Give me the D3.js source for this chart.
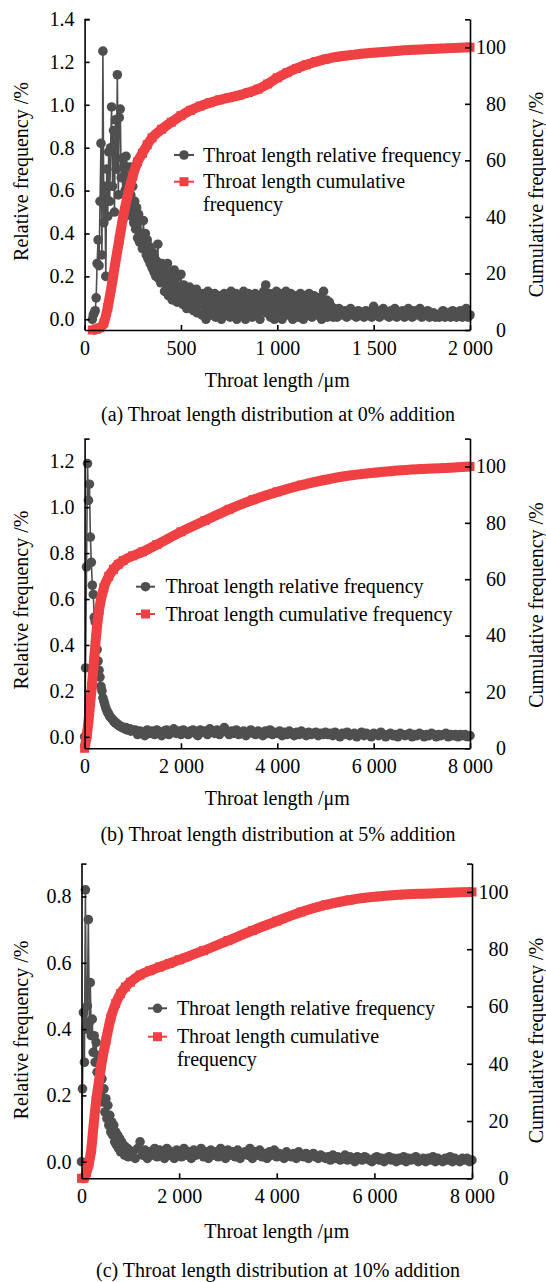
<!DOCTYPE html>
<html lang="en">
<head>
<meta charset="UTF-8" />
<title>Throat length distribution</title>
<style>
  body { margin: 0; background: #fff; }
  svg { display: block; font-family: "Liberation Serif", "Times New Roman", Times, serif; }
  text { fill: #000; }
</style>
</head>
<body>
<svg width="546" height="1282"></svg>
<script src="https://d3js.org/d3.v7.min.js"></script>
<script>
// ---- data ----
// (a) 0% addition, relative frequency: 40-400 um every 5 um
const relA1 = [0.00,0.02,0.03,0.04,0.10,0.26,0.37,0.25,0.55,0.82,0.30,1.25,0.45,0.62,0.20,0.70,0.48,0.78,0.55,0.80,
  0.99,0.62,0.88,0.50,0.93,0.70,1.14,0.58,0.94,0.98,0.66,0.75,0.47,0.72,0.60,0.76,0.55,0.68,0.52,0.71,
  0.58,0.48,0.62,0.45,0.55,0.42,0.52,0.38,0.49,0.36,0.46,0.40,0.33,0.46,0.35,0.40,0.30,0.37,0.28,0.34,
  0.26,0.32,0.24,0.31,0.22,0.28,0.20,0.27,0.35,0.19,0.24,0.17,0.26];
// 405-1300 um every 5 um
const relA2 = [0.20,0.24,0.13,0.21,0.17,0.26,0.11,0.19,0.15,0.22,0.09,0.18,0.23,0.12,0.16,0.08,0.20,0.14,0.10,0.21,
  0.12,0.07,0.16,0.10,0.14,0.05,0.13,0.09,0.15,0.06,0.11,0.13,0.04,0.10,0.08,0.14,0.03,0.12,0.07,0.11,
  0.09,0.02,0.12,0.06,0.10,0.00,0.08,0.13,0.04,0.11,0.07,0.02,0.10,0.05,0.12,0.01,0.09,0.06,0.11,0.03,
  0.08,0.00,0.10,0.05,0.12,0.02,0.07,0.11,0.04,0.09,0.01,0.13,0.06,0.10,0.03,0.08,0.12,0.00,0.07,0.10,
  0.04,0.11,0.02,0.09,0.13,0.05,0.00,0.10,0.07,0.12,0.03,0.08,0.11,0.01,0.09,0.06,0.12,0.02,0.10,0.05,
  0.08,0.00,0.11,0.04,0.09,0.13,0.06,0.16,0.03,0.10,0.07,0.12,0.01,0.09,0.05,0.11,0.00,0.08,0.13,0.06,
  0.10,0.03,0.12,0.07,0.00,0.09,0.11,0.04,0.13,0.06,0.10,0.02,0.08,0.12,0.05,0.00,0.09,0.11,0.03,0.07,
  0.10,0.01,0.08,0.12,0.04,0.09,0.00,0.11,0.06,0.10,0.02,0.08,0.12,0.05,0.09,0.01,0.07,0.11,0.03,0.06,
  0.09,0.02,0.10,0.05,0.08,0.00,0.07,0.13,0.03,0.06,0.09,0.01,0.05,0.08,0.02,0.06,0.04,0.01,0.05,0.03];
// 1310-2000 um every 10 um
const relA3 = [0.01,0.05,0.03,0.02,0.04,0.01,0.03,0.05,0.02,0.03,
  0.01,0.04,0.02,0.03,0.01,0.04,0.02,0.03,0.01,0.06,0.02,0.04,0.01,0.03,0.05,0.02,0.03,0.01,0.04,0.02,
  0.05,0.01,0.03,0.02,0.04,0.01,0.03,0.05,0.02,0.01,0.04,0.02,0.03,0.05,0.01,0.03,0.02,0.04,0.01,0.02,
  0.03,0.01,0.02,0.01,0.03,0.04,0.01,0.02,0.03,0.01,0.04,0.02,0.01,0.03,0.04,0.01,0.02,0.05,0.01,0.02];
const cumAx = [40,60,80,100,120,140,160,180,200,225,250,275,300,325,350,400,450,500,550,600,650,700,750,800,850,
  900,950,1000,1050,1100,1150,1200,1250,1300,1350,1400,1450,1500,1600,1700,1800,1900,2000];
const cumA = [0,0.3,0.8,2.5,8,15.5,24,32,40,48,54.5,59.5,62.5,65.5,68,71,73.5,75.8,77.7,79.2,80.4,81.4,82.2,83,84,
  85.2,87,89.2,91,92.5,93.8,94.9,95.8,96.5,97,97.4,97.8,98.1,98.6,99.1,99.4,99.7,100];

// (b) 5% addition: 0-1000 um every 20 um, then 1050-8000 um every 50 um
const relB1 = [0.00,0.30,0.74,1.19,1.03,1.10,0.87,0.76,0.66,0.62,0.52,0.50,0.44,0.38,0.33,0.29,0.26,0.22,0.20,0.17,
  0.155,0.14,0.125,0.115,0.105,0.10,0.09,0.085,0.08,0.075,0.07,0.065,0.06,0.06,0.055,0.05,0.05,0.045,0.045,0.04,
  0.04,0.04,0.035,0.04,0.03,0.035,0.03,0.035,0.025,0.03,0.03];
const relB2 = [0.03,0.01,0.025,0.02,0.005,0.03,0.015,0.025,0.01,0.03,0.02,0.005,0.025,0.03,0.01,0.02,0.035,0.015,0.025,0.01,
  0.03,0.02,0.01,0.025,0.03,0.015,0.005,0.03,0.02,0.025,0.01,0.035,0.02,0.015,0.03,0.01,0.025,0.04,0.02,0.01,
  0.025,0.015,0.03,0.01,0.02,0.025,0.005,0.02,0.03,0.015,0.01,0.025,0.02,0.005,0.025,0.015,0.03,0.01,0.02,0.015,
  0.025,0.005,0.02,0.01,0.025,0.015,0.005,0.02,0.01,0.025,0.015,0.005,0.02,0.01,0.015,0.02,0.005,0.015,0.01,0.02,
  0.01,0.015,0.005,0.02,0.01,0.0,0.015,0.01,0.02,0.005,0.01,0.015,0.0,0.01,0.02,0.005,0.015,0.01,0.0,0.015,
  0.01,0.005,0.02,0.01,0.0,0.01,0.015,0.005,0.01,0.0,0.015,0.01,0.005,0.01,0.015,0.0,0.01,0.005,0.015,0.01,
  0.0,0.01,0.005,0.015,0.01,0.0,0.01,0.005,0.01,0.015,0.0,0.01,0.005,0.01,0.0,0.01,0.005,0.01,0.0,0.005];
const cumBx = [0,50,100,150,200,250,300,400,500,600,700,800,1000,1200,1500,2000,2500,3000,3500,4000,4500,5000,
  5500,6000,6500,7000,7500,8000];
const cumB = [0,5,13,22,32,42,49,57,61,63.5,65.3,66.6,68.3,69.7,72.3,76.8,80.8,84.8,88.2,91,93.4,95.3,
  96.8,97.8,98.6,99.1,99.5,100];

// (c) 10% addition: 0-1000 um every 20 um, then 1050-8000 um every 50 um
const relC1 = [0.00,0.22,0.45,0.30,0.82,0.40,0.47,0.73,0.42,0.54,0.38,0.43,0.33,0.38,0.30,0.36,0.27,0.32,0.24,0.29,
  0.21,0.25,0.18,0.22,0.15,0.19,0.13,0.17,0.11,0.14,0.09,0.12,0.08,0.11,0.06,0.09,0.05,0.08,0.04,0.07,
  0.03,0.06,0.03,0.05,0.02,0.045,0.02,0.04,0.015,0.035,0.02];
const relC2 = [0.03,0.01,0.04,0.06,0.02,0.035,0.01,0.03,0.02,0.04,
  0.015,0.035,0.025,0.01,0.04,0.02,0.03,0.01,0.035,0.025,0.015,0.04,0.02,0.03,0.01,0.035,0.02,0.025,0.04,0.015,
  0.03,0.01,0.035,0.02,0.03,0.015,0.04,0.025,0.01,0.035,
  0.02,0.03,0.015,0.035,0.01,0.025,0.03,0.02,0.04,0.01,0.03,0.02,0.035,0.015,0.025,0.01,0.03,0.02,0.035,0.015,
  0.025,0.02,0.01,0.03,0.02,0.015,0.025,0.01,0.03,0.02,0.015,0.025,0.01,0.02,0.025,0.015,0.01,0.02,0.015,0.01,
  0.015,0.005,0.02,0.01,0.015,0.005,0.01,0.02,0.005,0.015,0.01,0.0,0.015,0.01,0.005,0.015,0.01,0.005,0.0,0.01,
  0.015,0.005,0.01,0.0,0.01,0.015,0.005,0.01,0.0,0.01,0.005,0.015,0.0,0.01,0.005,0.01,0.015,0.0,0.005,0.01,
  0.0,0.01,0.005,0.015,0.0,0.01,0.005,0.0,0.01,0.005,0.015,0.0,0.01,0.005,0.0,0.01,0.005,0.01,0.0,0.005];
const cumCx = [0,50,100,150,200,250,300,350,400,500,600,700,800,900,1000,1200,1400,1600,1800,2000,2500,3000,
  3500,4000,4500,5000,5500,6000,6500,7000,7500,8000];
const cumC = [0,0,2,5,10,19,27,33,39,48,56,61,64.5,66.8,68.5,71,72.5,73.8,75,76.3,79.5,83,
  86.5,89.8,93,95.5,97.2,98.3,99,99.4,99.7,100];

const ticksX2k = [0, 500, 1000, 1500, 2000];
const ticksX8k = [0, 2000, 4000, 6000, 8000];
const ticksCum = [0, 20, 40, 60, 80, 100];

// ---- drawing ----
const gray = "#4f4f4f";
const red = "#ef4143";
const serif = "Liberation Serif, Times New Roman, Times, serif";
const svg = d3.select("svg").attr("font-family", serif);
const fmtX = d3.formatLocale({ decimal: ".", thousands: " ", grouping: [3], currency: ["", ""] }).format(",d");

function pts(vals, start, step) {
  return vals.map((v, i) => ({ x: start + i * step, y: v }));
}

const panels = [
  {
    rel: pts(relA1, 40, 5).concat(pts(relA2, 405, 5), pts(relA3, 1310, 10)),
    cum: cumAx.map((x, i) => ({ x: x, y: cumA[i] })),
    xMax: 2000, xTicks: ticksX2k, yDom: [-0.05, 1.4], yTicks: d3.range(0, 1.41, 0.2),
    left: 84.6, right: 470, top: 19, bottom: 330, rLab: 506,
    yLabelL: 171.5, yLabelR: 194.5, xLabelY: 386.7, capY: 421,
    caption: "(a) Throat length distribution at 0% addition",
    lg: { x1: 174, x2: 194, tx: 203, rows: [155, 181.7], wrap: true }
  },
  {
    rel: pts(relB1, 0, 20).concat(pts(relB2, 1050, 50)),
    cum: cumBx.map((x, i) => ({ x: x, y: cumB[i] })),
    xMax: 8000, xTicks: ticksX8k, yDom: [-0.05, 1.3], yTicks: d3.range(0, 1.21, 0.2),
    left: 84.6, right: 470, top: 438.3, bottom: 748.3, rLab: 506,
    yLabelL: 600, yLabelR: 605, xLabelY: 805, capY: 841,
    caption: "(b) Throat length distribution at 5% addition",
    lg: { x1: 136, x2: 155, tx: 165.4, rows: [586.7, 614], wrap: false }
  },
  {
    rel: pts(relC1, 0, 20).concat(pts(relC2, 1050, 50)),
    cum: cumCx.map((x, i) => ({ x: x, y: cumC[i] })),
    xMax: 8000, xTicks: ticksX8k, yDom: [-0.05, 0.9], yTicks: d3.range(0, 0.81, 0.2),
    left: 81.5, right: 472, top: 863.3, bottom: 1178.3, rLab: 508.5,
    yLabelL: 1030, yLabelR: 1040.5, xLabelY: 1238, capY: 1277,
    caption: "(c) Throat length distribution at 10% addition",
    lg: { x1: 148, x2: 167, tx: 176.9, rows: [1008.3, 1036.7], wrap: true }
  }
];

function drawPanel(p) {
  const x = d3.scaleLinear().domain([0, p.xMax]).range([p.left, p.right]);
  const yL = d3.scaleLinear().domain(p.yDom).range([p.bottom, p.top]);
  const yR = d3.scaleLinear().domain([0, 110]).range([p.bottom, p.top]);
  const g = svg.append("g");

  // relative frequency: line + circles
  g.append("path")
    .datum(p.rel)
    .attr("fill", "none")
    .attr("stroke", gray)
    .attr("stroke-width", 1.6)
    .attr("d", d3.line().x((d) => x(d.x)).y((d) => yL(d.y)));
  g.append("g")
    .selectAll("circle")
    .data(p.rel)
    .join("circle")
    .attr("cx", (d) => x(d.x))
    .attr("cy", (d) => yL(d.y))
    .attr("r", 4.8)
    .attr("fill", gray);

  // cumulative frequency: thick line + squares
  g.append("path")
    .datum(p.cum)
    .attr("fill", "none")
    .attr("stroke", red)
    .attr("stroke-width", 10)
    .attr("stroke-linejoin", "round")
    .attr("d", d3.line().curve(d3.curveMonotoneX).x((d) => x(d.x)).y((d) => yR(d.y)));
  g.append("g")
    .selectAll("rect")
    .data(p.cum)
    .join("rect")
    .attr("x", (d) => x(d.x) - 4.5)
    .attr("y", (d) => yR(d.y) - 4.5)
    .attr("width", 9)
    .attr("height", 9)
    .attr("fill", red);

  // axes, ticks pointing inward
  const axB = g.append("g")
    .attr("transform", `translate(0,${p.bottom})`)
    .call(d3.axisBottom(x).tickValues(p.xTicks).tickFormat(fmtX)
      .tickSizeInner(-5).tickSizeOuter(0).tickPadding(11));
  const axL = g.append("g")
    .attr("transform", `translate(${p.left},0)`)
    .call(d3.axisLeft(yL).tickValues(p.yTicks).tickFormat(d3.format(".1f"))
      .tickSizeInner(-5).tickSizeOuter(0).tickPadding(10));
  const axR = g.append("g")
    .attr("transform", `translate(${p.right},0)`)
    .call(d3.axisRight(yR).tickValues(ticksCum).tickFormat(d3.format("d"))
      .tickSizeInner(-5).tickSizeOuter(0).tickPadding(7));
  // right-hand labels are right-aligned
  axR.selectAll(".tick text")
    .attr("text-anchor", "end")
    .attr("x", p.rLab - p.right);
  [axB, axL, axR].forEach((a) => {
    a.attr("font-size", 20).attr("font-family", serif);
    a.selectAll("path, line").attr("stroke", "#000").attr("stroke-width", 1.6);
    a.selectAll("text").attr("fill", "#000");
  });
  // small end stubs at the top of both vertical axes
  g.append("line").attr("x1", p.left).attr("x2", p.left + 5)
    .attr("y1", p.top + 0.8).attr("y2", p.top + 0.8)
    .attr("stroke", "#000").attr("stroke-width", 1.6);
  g.append("line").attr("x1", p.right - 5).attr("x2", p.right)
    .attr("y1", p.top + 0.8).attr("y2", p.top + 0.8)
    .attr("stroke", "#000").attr("stroke-width", 1.6);

  // axis titles
  g.append("text")
    .attr("transform", `translate(21,${p.yLabelL}) rotate(-90)`)
    .attr("text-anchor", "middle").attr("dy", "0.35em")
    .attr("font-size", 20)
    .text("Relative frequency /%");
  g.append("text")
    .attr("transform", `translate(536,${p.yLabelR}) rotate(-90)`)
    .attr("text-anchor", "middle").attr("dy", "0.35em")
    .attr("font-size", 20)
    .text("Cumulative frequency /%");
  g.append("text")
    .attr("x", (p.left + p.right) / 2).attr("y", p.xLabelY)
    .attr("text-anchor", "middle").attr("font-size", 20)
    .text("Throat length /\u03bcm");
  g.append("text")
    .attr("x", 278).attr("y", p.capY)
    .attr("text-anchor", "middle").attr("font-size", 20)
    .text(p.caption);

  // legend
  const lg = p.lg;
  const mid = (lg.x1 + lg.x2) / 2;
  g.append("line").attr("x1", lg.x1).attr("x2", lg.x2)
    .attr("y1", lg.rows[0]).attr("y2", lg.rows[0])
    .attr("stroke", gray).attr("stroke-width", 2);
  g.append("circle").attr("cx", mid).attr("cy", lg.rows[0]).attr("r", 4.8).attr("fill", gray);
  g.append("line").attr("x1", lg.x1).attr("x2", lg.x2)
    .attr("y1", lg.rows[1]).attr("y2", lg.rows[1])
    .attr("stroke", red).attr("stroke-width", 2);
  g.append("rect").attr("x", mid - 4.5).attr("y", lg.rows[1] - 4.5)
    .attr("width", 9).attr("height", 9).attr("fill", red);
  g.append("text").attr("x", lg.tx).attr("y", lg.rows[0]).attr("dy", "0.33em")
    .attr("font-size", 20).text("Throat length relative frequency");
  const t2 = g.append("text").attr("x", lg.tx).attr("y", lg.rows[1]).attr("dy", "0.33em")
    .attr("font-size", 20);
  if (lg.wrap) {
    t2.append("tspan").text("Throat length cumulative");
    t2.append("tspan").attr("x", lg.tx).attr("dy", "1.15em").text("frequency");
  } else {
    t2.text("Throat length cumulative frequency");
  }
}

panels.forEach(drawPanel);
</script>
</body>
</html>
